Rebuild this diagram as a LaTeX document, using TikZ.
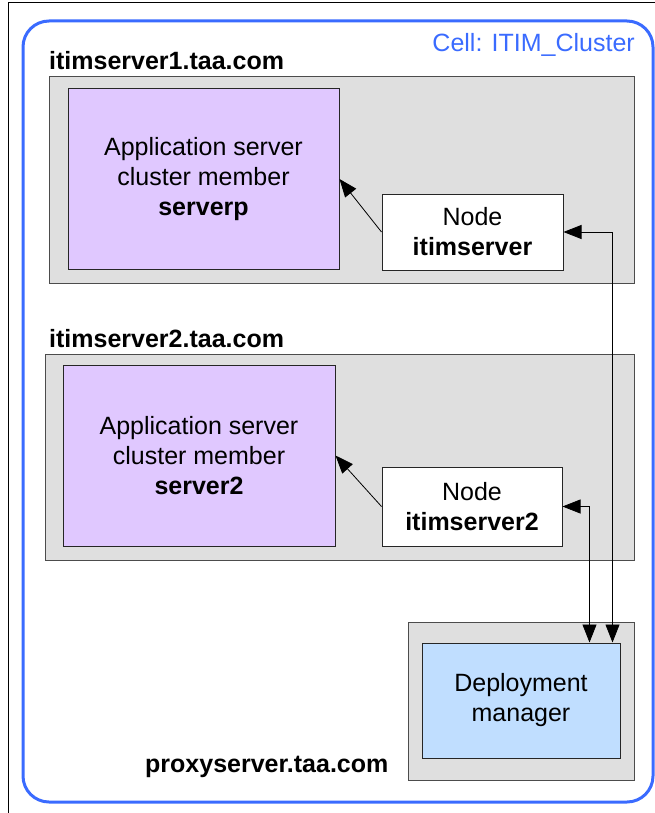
\documentclass[tikz,border=0pt]{standalone}
\usepackage{fontspec}
\setmainfont{Liberation Sans}
\usetikzlibrary{arrows.meta,positioning}
\definecolor{CellBlue}{HTML}{3A6BFF}
\definecolor{HostGray}{HTML}{DFDFDF}
\definecolor{Lilac}{HTML}{E0C8FF}
\definecolor{DmBlue}{HTML}{C0DEFF}

\begin{document}
\begin{tikzpicture}[x=1pt,y=-1pt,
    every node/.style={font=\fontsize{25}{30}\selectfont,inner sep=0pt},
    host/.style={draw=black!70,fill=HostGray,line width=1pt},
    member/.style={draw=black!85,fill=Lilac,line width=1pt,align=center},
    nodebox/.style={draw=black!85,fill=white,line width=1pt,align=center},
    hostname/.style={anchor=base west,font=\fontsize{25}{30}\selectfont\bfseries},
    link/.style={line width=0.8pt,-{Triangle[length=18pt,width=14pt]}},
    sync/.style={line width=0.8pt,{Triangle[length=18pt,width=14pt]}-{Triangle[length=18pt,width=14pt]}}
  ]
    \useasboundingbox (0,0) rectangle (655,813);
    % frame and cell
    \draw[line width=1pt] (8,813) -- (8,3) -- (655,3);
    \draw[CellBlue,line width=3pt,rounded corners=26pt] (23,21) rectangle (653,802);
    \node[anchor=base east,text=CellBlue] (cell) at (635,52) {Cell: ITIM\_Cluster};

    % first host
    \node[hostname] (name1) at (49,70) {itimserver1.taa.com};
    \node[host,minimum width=585,minimum height=206] (host1) at (341.5,180) {};
    \node[member,minimum width=271,minimum height=180] (app1) at (203.5,179)
      {Application server\\cluster member\\\textbf{serverp}};
    \node[nodebox,minimum width=181,minimum height=76] (nd1) at (472.5,232)
      {Node\\\textbf{itimserver}};

    % second host
    \node[hostname] (name2) at (49,347) {itimserver2.taa.com};
    \node[host,minimum width=589,minimum height=206] (host2) at (339.5,457) {};
    \node[member,minimum width=272,minimum height=181] (app2) at (199,455.5)
      {Application server\\cluster member\\\textbf{server2}};
    \node[nodebox,minimum width=180,minimum height=79] (nd2) at (472,506.5)
      {Node\\\textbf{itimserver2}};

    % proxy host
    \node[host,minimum width=226,minimum height=158] (proxy) at (521,701) {};
    \node[draw=black!85,fill=DmBlue,line width=1pt,align=center,
      minimum width=198,minimum height=115] (dm) at (521,700.5)
      {Deployment\\manager};
    \node[hostname] (name3) at (145,772) {proxyserver.taa.com};

    \draw[link] (nd1.west) -- (app1.east);
    \draw[link] (nd2.west) -- (app2.east);
    \draw[sync] (nd1.east) -| ([xshift=-8pt]dm.north east);
    \draw[sync] (nd2.east) -| ([xshift=-31pt]dm.north east);
  \end{tikzpicture}
\end{document}
